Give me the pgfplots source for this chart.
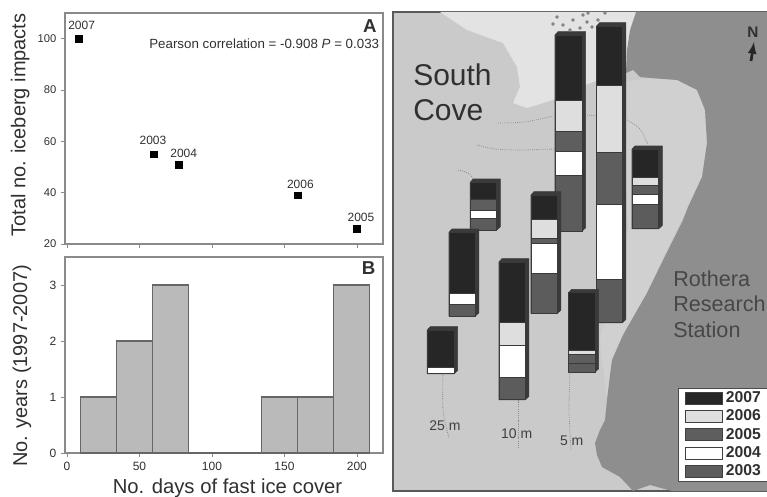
\documentclass[border=0pt]{standalone}
\usepackage{pgfplots}
\pgfplotsset{compat=1.18}
\usepackage{fontspec}
\setmainfont{Liberation Sans}
\definecolor{txt}{HTML}{303030}
\definecolor{frame}{HTML}{8A8A8A}
\definecolor{sea}{HTML}{CACACA}
\definecolor{shore}{HTML}{D0D0D0}
\definecolor{ice}{HTML}{E3E3E3}
\definecolor{rock}{HTML}{8E8E8E}
\definecolor{cA}{HTML}{262626}
\definecolor{cB}{HTML}{DEDEDE}
\definecolor{cC}{HTML}{5E5E5E}
\definecolor{cD}{HTML}{FFFFFF}
\definecolor{cE}{HTML}{5C5C5C}
\definecolor{side}{HTML}{3A3A3A}
\newcommand{\seg}[5]{\addplot[forget plot,fill=#5,draw=side,line width=0.6pt] coordinates {(#1,#3)(#2,#3)(#2,#4)(#1,#4)} --cycle;}
\newcommand{\sidepart}[4]{\addplot[forget plot,fill=side,draw=side,line width=0.5pt] coordinates {(#1,#3)({#1+3},{#3-3.3})({#2+3.6},{#3-3.3})({#2+3.6},{#4-3.3})(#2,#4)(#1,#4)} --cycle;}
\newcommand{\dotln}[1]{\addplot[forget plot,color=black!45,line width=0.6pt,densely dotted,smooth] coordinates {#1};}
\pgfplotsset{
 panel/.style={scale only axis,axis line style={color=frame,line width=0.9pt},
  tick style={color=frame,line width=0.6pt},tick align=outside,major tick length=3pt,
  xtick pos=bottom,ytick pos=left,/pgf/number format/assume math mode=true,
  tick label style={text=txt},
  every axis y label/.style={at={(axis description cs:\ylx,\yly)},rotate=90,anchor=center,font=\fontsize{15}{15}\selectfont,text=txt}}}
\begin{document}
\begin{tikzpicture}
\path[clip,use as bounding box] (0pt,0pt) rectangle (575.25pt,372pt);
% ---------- map ----------
\begin{axis}[name=map,at={(294.75pt,3.75pt)},anchor=south west,scale only axis,width=285pt,height=359.25pt,
 xmin=393,xmax=773,ymin=12,ymax=491,y dir=reverse,xtick=\empty,ytick=\empty,
 axis line style={color=black!65,line width=1pt},axis background/.style={fill=sea},
 legend style={at={(axis cs:678,388)},anchor=north west,draw=black!70,line width=0.5pt,fill=white,
  font=\fontsize{11.8}{11.8}\bfseries\selectfont,text=txt,inner xsep=5pt,inner ysep=0.5pt,
  row sep=0pt,legend cell align=left},
 legend image code/.code={\draw[#1,draw=black!75,line width=0.7pt] (0pt,-4.5pt) rectangle (28pt,4.5pt);}]
% shore band
\addplot[forget plot,fill=shore,draw=none] coordinates {(624,82)(650,78)(677,80)(697,90)(705,110)(707,143)(702,177)(688,207)(667,250)(647,293)(623,335)(612,360)(607,400)(600,340)(612,290)(628,230)(625,170)(622,120)} --cycle;
% ice
\addplot[forget plot,fill=ice,draw=none] coordinates {(440,12)(467,30)(503,43)(517,67)(520,87)(513,103)(527,108)(553,100)(590,83)(630,70)(640,12)} --cycle;
% rock
\addplot[forget plot,fill=rock,draw=none] coordinates {(636,12)(630,30)(627,50)(626,73)(633,70)(640,77)(650,78)(677,80)(697,90)(705,110)(707,143)(702,177)(688,207)(683,220)(668,250)(647,293)(623,335)(612,360)(610,375)(607,400)(605,420)(600,430)(595,443)(597,455)(602,467)(620,477)(633,491)(650,485)(672,491)(773,491)(773,12)} --cycle;
% speckles
\addplot[forget plot,only marks,mark=*,mark size=1.1pt,color=black!50] coordinates {(557,17)(563,25)(573,20)(580,28)(587,22)(553,24)(570,30)(592,27)(583,15)(605,13)(588,13)(598,20)};
% dotted depth contours
\dotln{(498,123)(525,122)(553,116)}
\dotln{(587,115)(600,116)}
\dotln{(477,145)(495,149)(520,150)(555,149)}
\dotln{(627,120)(640,129)(648,145)}
\dotln{(458,170)(468,173)(474,180)}
\dotln{(443,375)(443,410)(449,438)}
\dotln{(518,400)(518,448)}
\dotln{(570,372)(569,410)(571,450)}
% column 1
\sidepart{555}{582}{35}{231}
\seg{555}{582}{35}{100}{cA}\seg{555}{582}{100}{131.7}{cB}\seg{555}{582}{131.7}{151.7}{cC}\seg{555}{582}{151.7}{175}{cD}\seg{555}{582}{175}{231}{cE}
% column 2
\sidepart{596.7}{622.3}{26}{322.7}
\seg{596.7}{622.3}{26}{85.7}{cA}\seg{596.7}{622.3}{85.7}{152.7}{cB}\seg{596.7}{622.3}{152.7}{204.3}{cC}\seg{596.7}{622.3}{204.3}{279.3}{cD}\seg{596.7}{622.3}{279.3}{322.7}{cE}
% column 3
\sidepart{632}{658.7}{149.3}{228.7}
\seg{632}{658.7}{149.3}{177.7}{cA}\seg{632}{658.7}{177.7}{185.7}{cB}\seg{632}{658.7}{185.7}{194.3}{cC}\seg{632}{658.7}{194.3}{204.7}{cD}\seg{632}{658.7}{204.7}{228.7}{cE}
% column 4
\sidepart{470.3}{496.7}{182.3}{230}
\seg{470.3}{496.7}{182.3}{199}{cA}\seg{470.3}{496.7}{199}{210.7}{cC}\seg{470.3}{496.7}{210.7}{218.7}{cD}\seg{470.3}{496.7}{218.7}{230}{cE}
% column 5
\sidepart{531}{557.3}{195}{313.3}
\seg{531}{557.3}{195}{219}{cA}\seg{531}{557.3}{219}{238}{cB}\seg{531}{557.3}{238}{243}{cC}\seg{531}{557.3}{243}{273.3}{cD}\seg{531}{557.3}{273.3}{313.3}{cE}
% column 6
\sidepart{449}{475.3}{232.3}{316}
\seg{449}{475.3}{232.3}{293.3}{cA}\seg{449}{475.3}{293.3}{304.7}{cD}\seg{449}{475.3}{304.7}{316}{cE}
% column 7
\sidepart{427.3}{454}{330}{373.7}
\seg{427.3}{454}{330}{367}{cA}\seg{427.3}{454}{367}{373.7}{cD}
% column 8
\sidepart{499}{525.3}{262}{399.7}
\seg{499}{525.3}{262}{322.3}{cA}\seg{499}{525.3}{322.3}{345.3}{cB}\seg{499}{525.3}{345.3}{377.3}{cD}\seg{499}{525.3}{377.3}{399.7}{cE}
% column 9
\sidepart{568.7}{595}{292.7}{372}
\seg{568.7}{595}{292.7}{350.7}{cA}\seg{568.7}{595}{350.7}{354.7}{cB}\seg{568.7}{595}{354.7}{363.3}{cC}\seg{568.7}{595}{363.3}{372}{cE}
% north arrow
\addplot[forget plot,-latex,color=cA,line width=2pt] coordinates {(751,61)(754,42)};
\node[font=\fontsize{11.5}{11.5}\bfseries\selectfont,text=txt] at (axis cs:753,32) {N};
% names
\node[anchor=base west,font=\fontsize{22.5}{22.5}\selectfont,text=txt,inner sep=0pt] at (axis cs:413,85) {South};
\node[anchor=base west,font=\fontsize{22.5}{22.5}\selectfont,text=txt,inner sep=0pt] at (axis cs:413,120) {Cove};
\node[anchor=base west,font=\fontsize{16.2}{16.2}\selectfont,text=black!72,inner sep=0pt] at (axis cs:673,286) {Rothera};
\node[anchor=base west,font=\fontsize{16.2}{16.2}\selectfont,text=black!72,inner sep=0pt] at (axis cs:673,311.7) {Research};
\node[anchor=base west,font=\fontsize{16.2}{16.2}\selectfont,text=black!72,inner sep=0pt] at (axis cs:673,337.7) {Station};
\node[anchor=base,font=\fontsize{10.5}{10.5}\selectfont,text=black!75,inner sep=0pt] at (axis cs:445,430) {25 m};
\node[anchor=base,font=\fontsize{10.5}{10.5}\selectfont,text=black!75,inner sep=0pt] at (axis cs:516.7,438) {10 m};
\node[anchor=base,font=\fontsize{10.5}{10.5}\selectfont,text=black!75,inner sep=0pt] at (axis cs:571.7,445) {5 m};
% legend
\addlegendimage{fill=cA}\addlegendentry{2007}
\addlegendimage{fill=cB}\addlegendentry{2006}
\addlegendimage{fill=cC}\addlegendentry{2005}
\addlegendimage{fill=cD}\addlegendentry{2004}
\addlegendimage{fill=cE}\addlegendentry{2003}
\end{axis}
% ---------- panel A ----------
\def\ylx{-0.141}\def\yly{0.515}
\begin{axis}[panel,at={(48.75pt,189pt)},anchor=south west,width=238.5pt,height=173.25pt,
 xmin=-1.4,xmax=218,ymin=20,ymax=110,xtick={0,50,100,150,200},xticklabels={},ytick={20,40,60,80,100},
 ylabel={Total no. iceberg impacts},yticklabel style={font=\fontsize{8.4}{8.4}\selectfont}]
\addplot[only marks,mark=square*,mark size=2.5pt,color=black] coordinates {(8,100)(60,55)(77,51)(159,39)(200,26)};
\node[font=\fontsize{9}{9}\selectfont,text=txt] at (axis cs:10.1,105.1) {2007};
\node[font=\fontsize{9}{9}\selectfont,text=txt] at (axis cs:59.3,60.5) {2003};
\node[font=\fontsize{9}{9}\selectfont,text=txt] at (axis cs:80.5,55.5) {2004};
\node[font=\fontsize{9}{9}\selectfont,text=txt] at (axis cs:161,43.3) {2006};
\node[font=\fontsize{9}{9}\selectfont,text=txt] at (axis cs:202.8,30.5) {2005};
\node[anchor=base east,inner sep=0pt,font=\fontsize{10}{10}\selectfont,text=txt] at (axis cs:215.5,96.3) {Pearson correlation = -0.908 \textit{P} = 0.033};
\node[font=\fontsize{14}{14}\bfseries\selectfont,text=txt] at (axis cs:209,105) {A};
\end{axis}
% ---------- panel B ----------
\def\ylx{-0.135}\def\yly{0.444}
\begin{axis}[panel,at={(48.75pt,32.25pt)},anchor=south west,width=238.5pt,height=147pt,
 xmin=-1.4,xmax=218,ymin=0,ymax=3.5,xtick={0,50,100,150,200},ytick={0,1,2,3},
 ylabel={No. years (1997-2007)},xlabel={No. days of fast ice cover},
 every axis x label/.style={at={(axis description cs:0.511,-0.178)},anchor=center,font=\fontsize{15.2}{15.2}\selectfont,text=txt},
 tick label style={font=\fontsize{9}{9}\selectfont}]
\addplot[ybar interval,fill=black!27,draw=black!60,line width=0.8pt] coordinates {(9,1)(34,2)(59,3)(84,0)(134,1)(159,1)(184,3)(209,3)};
\node[font=\fontsize{14}{14}\bfseries\selectfont,text=txt] at (axis cs:208,3.3) {B};
\end{axis}
\end{tikzpicture}
\end{document}
